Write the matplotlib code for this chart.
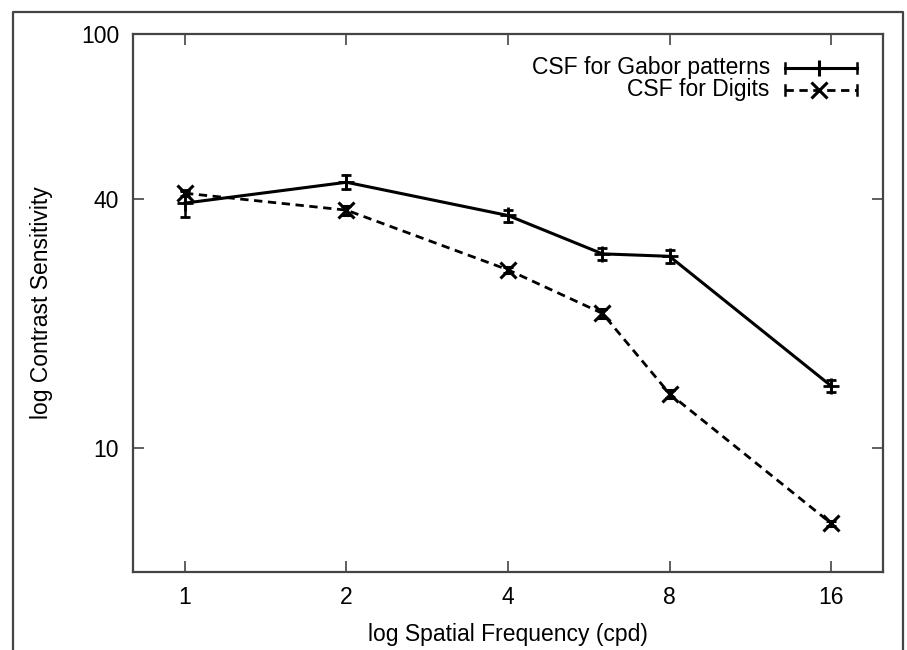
import matplotlib
matplotlib.use("Agg")
import matplotlib.pyplot as plt
from matplotlib.lines import Line2D
from matplotlib.ticker import FixedLocator, FixedFormatter, NullLocator

plt.rcParams["font.family"] = ["Liberation Sans", "DejaVu Sans"]
plt.rcParams["font.size"] = 16.5

# spatial frequency (cpd)
freq = [1, 2, 4, 6, 8, 16]

gabor_cs = [39.0, 43.8, 36.4, 29.4, 29.0, 14.1]
gabor_err = [3.0, 1.7, 1.2, 1.0, 1.0, 0.5]

digits_cs = [41.2, 37.5, 26.9, 21.1, 13.5, 6.56]
digits_err = [0.6, 0.9, 0.5, 0.5, 0.3, 0.1]

x_ticks = [1, 2, 4, 8, 16]
y_ticks = [10, 40, 100]

fig = plt.figure(figsize=(9.07, 6.5), dpi=100)
ax = fig.add_axes([133 / 907, 1 - 572 / 650, 750 / 907, 538 / 650])

ax.errorbar(freq, gabor_cs, yerr=gabor_err, color="black", lw=2.2, ls="-",
            marker="+", ms=12, mew=2, capsize=3.5, elinewidth=1.8, capthick=1.8)
ax.errorbar(freq, digits_cs, yerr=digits_err, color="black", lw=2.0, ls=(0, (3, 2)),
            marker="x", ms=11, mew=2.2, capsize=3.5, elinewidth=1.8, capthick=1.8)

ax.set_xscale("log")
ax.set_yscale("log")
ax.set_xlim(0.8, 20)
ax.set_ylim(5, 100)
ax.xaxis.set_major_locator(FixedLocator(x_ticks))
ax.xaxis.set_major_formatter(FixedFormatter([str(t) for t in x_ticks]))
ax.yaxis.set_major_locator(FixedLocator(y_ticks))
ax.yaxis.set_major_formatter(FixedFormatter([str(t) for t in y_ticks]))
ax.xaxis.set_minor_locator(NullLocator())
ax.yaxis.set_minor_locator(NullLocator())
ax.tick_params(direction="in", length=8, width=1.2, color="#444444",
               top=True, right=True, labelsize=16.5, pad=10)

for sp in ax.spines.values():
    sp.set_color("#444444")
    sp.set_linewidth(1.6)

ax.set_xlabel("log Spatial Frequency (cpd)", fontsize=16.5, labelpad=10)
ax.set_ylabel("log Contrast Sensitivity", fontsize=16.5, labelpad=20)

# gnuplot-style key, top right
rows = [("CSF for Gabor patterns", "-", "+", 0.937, 2.2),
        ("CSF for Digits", (0, (3, 2)), "x", 0.896, 2.0)]
for label, ls, mk, yy, lw in rows:
    ax.text(0.849, yy, label, transform=ax.transAxes, ha="right", va="center", fontsize=16.5)
    ax.add_line(Line2D([0.869, 0.965], [yy, yy], transform=ax.transAxes, color="black",
                       lw=lw, ls=ls))
    for xe in (0.869, 0.965):
        ax.add_line(Line2D([xe, xe], [yy - 0.01, yy + 0.01], transform=ax.transAxes,
                           color="black", lw=1.8))
    ax.add_line(Line2D([0.915], [yy], transform=ax.transAxes, color="black",
                       marker=mk, ms=12, mew=2.2, ls="none"))

# outer frame around the figure (open at the bottom)
fig.add_artist(Line2D([13 / 907, 13 / 907, 903 / 907, 903 / 907],
                      [0, 1 - 12 / 650, 1 - 12 / 650, 0],
                      transform=fig.transFigure, color="#444444", lw=1.6))

fig.savefig("out.png", dpi=100)
